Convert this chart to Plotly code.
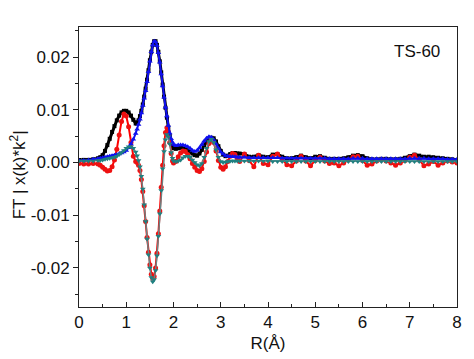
import plotly.graph_objects as go

# R grid (Å)
R = [0.0, 0.1, 0.2, 0.3,
     0.40, 0.45, 0.50, 0.55, 0.60, 0.65, 0.70, 0.75, 0.80, 0.85, 0.90, 0.95, 1.00, 1.05, 1.10, 1.15,
     1.20, 1.23, 1.26, 1.29, 1.32, 1.35, 1.38, 1.41, 1.44, 1.47, 1.50, 1.53, 1.56, 1.59, 1.62, 1.65,
     1.68, 1.71, 1.74, 1.77, 1.80, 1.83, 1.86, 1.89, 1.92, 1.95, 1.98,
     2.00, 2.05, 2.10, 2.15, 2.20, 2.25, 2.30, 2.35, 2.40, 2.45, 2.50, 2.55, 2.60, 2.65, 2.70, 2.75,
     2.80, 2.85, 2.90, 2.95, 3.00, 3.05, 3.10, 3.15, 3.20, 3.25, 3.30, 3.35,
     3.4, 3.5, 3.6, 3.7, 3.8, 3.9, 4.0, 4.1, 4.2, 4.3, 4.4, 4.5, 4.6, 4.7, 4.8, 4.9, 5.0, 5.1, 5.2,
     5.3, 5.4, 5.5, 5.6, 5.7, 5.8, 5.9, 6.0, 6.1, 6.2, 6.3, 6.4, 6.5, 6.6, 6.7, 6.8, 6.9, 7.0, 7.1,
     7.2, 7.3, 7.4, 7.5, 7.6, 7.7, 7.8, 7.9, 8.0]

# |FT| data (black)
mag_data = [0.0005, 0.0005, 0.0005, 0.0006,
            0.0008, 0.0010, 0.0014, 0.0022, 0.0033, 0.0045, 0.0058, 0.0069, 0.0080, 0.0089, 0.0095, 0.0098, 0.0098, 0.0095, 0.0089, 0.0081,
            0.0074, 0.0076, 0.0080, 0.0088, 0.0098, 0.0110, 0.0125, 0.0140, 0.0157, 0.0175, 0.0194, 0.0210, 0.0223, 0.0230, 0.0230, 0.0223,
            0.0210, 0.0192, 0.0171, 0.0148, 0.0125, 0.0104, 0.0085, 0.0067, 0.0051, 0.0038, 0.0030,
            0.0027, 0.0026, 0.0027, 0.0028, 0.0028, 0.0026, 0.0023, 0.0020, 0.0017, 0.0014, 0.0013, 0.0017, 0.0024, 0.0032, 0.0040, 0.0045,
            0.0047, 0.0046, 0.0040, 0.0031, 0.0022, 0.0015, 0.0012, 0.0013, 0.0016, 0.0018, 0.0018, 0.0017,
            0.0017, 0.0016, 0.0011, 0.0011, 0.0014, 0.0011, 0.0010, 0.0015, 0.0016, 0.0011, 0.0008, 0.0008, 0.0010, 0.0013, 0.0010, 0.0008, 0.0011, 0.0012, 0.0009,
            0.0007, 0.0007, 0.0007, 0.0008, 0.0010, 0.0013, 0.0014, 0.0012, 0.0008, 0.0006, 0.0006, 0.0007, 0.0007, 0.0006, 0.0006, 0.0007, 0.0009, 0.0012, 0.0015,
            0.0013, 0.0011, 0.0011, 0.0010, 0.0009, 0.0008, 0.0007, 0.0006, 0.0005]

# |FT| fit (blue)
mag_fit = [0.0004, 0.0004, 0.0005, 0.0006,
           0.0007, 0.0008, 0.0009, 0.0010, 0.0011, 0.0012, 0.0013, 0.0014, 0.0015, 0.0016, 0.0018, 0.0020, 0.0023, 0.0028, 0.0035, 0.0044,
           0.0055, 0.0063, 0.0072, 0.0082, 0.0094, 0.0108, 0.0122, 0.0136, 0.0153, 0.0172, 0.0192, 0.0210, 0.0223, 0.0230, 0.0229, 0.0222,
           0.0208, 0.0190, 0.0168, 0.0145, 0.0124, 0.0105, 0.0088, 0.0070, 0.0056, 0.0045, 0.0038,
           0.0034, 0.0032, 0.0033, 0.0033, 0.0033, 0.0032, 0.0030, 0.0027, 0.0023, 0.0021, 0.0023, 0.0028, 0.0034, 0.0041, 0.0046, 0.0049,
           0.0048, 0.0043, 0.0035, 0.0027, 0.0020, 0.0016, 0.0013, 0.0012, 0.0011, 0.0011, 0.0011, 0.0010,
           0.0010, 0.0010, 0.0009, 0.0009, 0.0009, 0.0009, 0.0009, 0.0009, 0.0009, 0.0008, 0.0008, 0.0008, 0.0008, 0.0008, 0.0008, 0.0008, 0.0008, 0.0008, 0.0008,
           0.0007, 0.0007, 0.0007, 0.0007, 0.0007, 0.0008, 0.0008, 0.0008, 0.0007, 0.0007, 0.0007, 0.0007, 0.0007, 0.0007, 0.0007, 0.0007, 0.0007, 0.0008, 0.0008,
           0.0008, 0.0008, 0.0007, 0.0007, 0.0007, 0.0007, 0.0006, 0.0006, 0.0006]

# Im/Re part data (red)
part_data = [-0.0002, -0.0003, -0.0003, -0.0002,
             -0.0003, -0.0005, -0.0009, -0.0013, -0.0016, -0.0015, -0.0008, 0.0005, 0.0025, 0.0052, 0.0078, 0.0092, 0.0088, 0.0068, 0.0038, 0.0012,
             0.0002, 0.0000, -0.0005, -0.0015, -0.0032, -0.0055, -0.0082, -0.0112, -0.0142, -0.0170, -0.0194, -0.0212, -0.0220, -0.0216, -0.0200, -0.0172,
             -0.0135, -0.0092, -0.0047, -0.0005, 0.0032, 0.0057, 0.0066, 0.0058, 0.0038, 0.0017, 0.0003,
             -0.0001, 0.0002, 0.0011, 0.0018, 0.0022, 0.0021, 0.0015, 0.0007, -0.0002, -0.0009, -0.0015, -0.0017, -0.0012, 0.0002, 0.0020, 0.0036,
             0.0043, 0.0038, 0.0022, 0.0004, -0.0009, -0.0013, -0.0008, 0.0002, 0.0012, 0.0017, 0.0015, 0.0008,
             0.0002, 0.0016, 0.0004, -0.0008, 0.0014, -0.0002, -0.0004, 0.0012, 0.0016, 0.0005, -0.0004, -0.0006, 0.0003, 0.0012, 0.0003, -0.0006, 0.0004, 0.0010, 0.0003,
             -0.0002, -0.0001, -0.0006, -0.0001, 0.0005, 0.0011, 0.0012, 0.0004, -0.0005, -0.0003, 0.0003, 0.0005, 0.0003, -0.0001, -0.0005, -0.0001, 0.0004, 0.0010, 0.0014,
             0.0005, -0.0006, -0.0003, 0.0002, -0.0005, -0.0001, 0.0003, 0.0001, -0.0001]

# Im/Re part fit (teal)
part_fit = [0.0003, 0.0003, 0.0003, 0.0003,
            0.0004, 0.0004, 0.0005, 0.0006, 0.0007, 0.0008, 0.0009, 0.0010, 0.0012, 0.0015, 0.0019, 0.0023, 0.0027, 0.0030, 0.0030, 0.0027,
            0.0020, 0.0013, 0.0004, -0.0008, -0.0026, -0.0050, -0.0080, -0.0112, -0.0145, -0.0175, -0.0200, -0.0218, -0.0226, -0.0222, -0.0205, -0.0177,
            -0.0140, -0.0097, -0.0053, -0.0012, 0.0021, 0.0043, 0.0053, 0.0049, 0.0035, 0.0019, 0.0008,
            0.0003, 0.0002, 0.0003, 0.0005, 0.0009, 0.0012, 0.0012, 0.0010, 0.0005, 0.0000, -0.0004, -0.0006, -0.0002, 0.0010, 0.0027, 0.0040,
            0.0044, 0.0038, 0.0024, 0.0010, 0.0002, 0.0000, 0.0001, 0.0002, 0.0003, 0.0003, 0.0003, 0.0003,
            0.0003, 0.0003, 0.0003, 0.0003, 0.0003, 0.0003, 0.0003, 0.0002, 0.0002, 0.0002, 0.0002, 0.0002, 0.0002, 0.0002, 0.0002, 0.0002, 0.0002, 0.0002, 0.0002,
            0.0002, 0.0002, 0.0002, 0.0002, 0.0002, 0.0002, 0.0002, 0.0002, 0.0002, 0.0002, 0.0002, 0.0002, 0.0002, 0.0002, 0.0002, 0.0002, 0.0002, 0.0002, 0.0002,
            0.0002, 0.0002, 0.0002, 0.0002, 0.0002, 0.0002, 0.0002, 0.0002, 0.0002]

y_tickvals = [-0.02, -0.01, 0.0, 0.01, 0.02]
y_ticktext = ["-0.02", "-0.01", "0.00", "0.01", "0.02"]
x_tickvals = [0, 1, 2, 3, 4, 5, 6, 7, 8]
x_ticktext = ["0", "1", "2", "3", "4", "5", "6", "7", "8"]

FONT = "Arial, Liberation Sans, sans-serif"

fig = go.Figure()
fig.add_trace(go.Scatter(x=R, y=mag_data, mode="lines+markers",
                         line=dict(color="#000000", width=3),
                         marker=dict(symbol="square", size=4, color="#000000")))
fig.add_trace(go.Scatter(x=R, y=part_data, mode="lines+markers",
                         line=dict(color="#ff0000", width=2),
                         marker=dict(symbol="circle", size=5, color="#ee1111")))
fig.add_trace(go.Scatter(x=R, y=mag_fit, mode="lines+markers",
                         line=dict(color="#1010ee", width=2),
                         marker=dict(symbol="triangle-up", size=5, color="#1010ee")))
fig.add_trace(go.Scatter(x=R, y=part_fit, mode="lines+markers",
                         line=dict(color="#6a8484", width=1.5),
                         marker=dict(symbol="triangle-down", size=5, color="#1f8080")))

fig.add_annotation(text="TS-60", x=0.894, y=0.911, xref="paper", yref="paper",
                   xanchor="center", yanchor="middle",
                   showarrow=False, font=dict(family=FONT, size=17, color="#111111"))
# y-axis title (placed as rotated text, slightly below axis centre as in the original)
fig.add_annotation(text="FT | x(k)*k<sup>2</sup>|", x=-0.161, y=0.471, xref="paper", yref="paper",
                   xanchor="center", yanchor="middle", textangle=-90,
                   showarrow=False, font=dict(family=FONT, size=17, color="#111111"))

# page body has an 8px default margin, so margins are offset to place the plot area
fig.update_layout(
    width=474, height=359,
    margin=dict(l=71, r=25, t=19, b=60),
    paper_bgcolor="white", plot_bgcolor="white",
    showlegend=False,
    font=dict(family=FONT, size=17, color="#111111"),
)
fig.update_xaxes(range=[0, 8], tickmode="array", tickvals=x_tickvals, ticktext=x_ticktext,
                 automargin=False,
                 ticks="inside", ticklen=5, tickwidth=1, tickcolor="#222222",
                 minor=dict(ticks="inside", dtick=0.5, tick0=0, ticklen=3, tickcolor="#222222"),
                 showline=True, linecolor="#222222", linewidth=1, mirror=True,
                 showgrid=False, zeroline=False,
                 title=dict(text="R(Å)", standoff=5, font=dict(family=FONT, size=17)))
fig.update_yaxes(range=[-0.0274, 0.0257], tickmode="array", tickvals=y_tickvals, ticktext=y_ticktext,
                 automargin=False,
                 ticks="outside", ticklen=5, tickwidth=1, tickcolor="#222222",
                 minor=dict(ticks="outside", dtick=0.005, tick0=0, ticklen=3, tickcolor="#222222"),
                 showline=True, linecolor="#222222", linewidth=1, mirror=True,
                 showgrid=False, zeroline=False)

fig.write_html("out.html")
